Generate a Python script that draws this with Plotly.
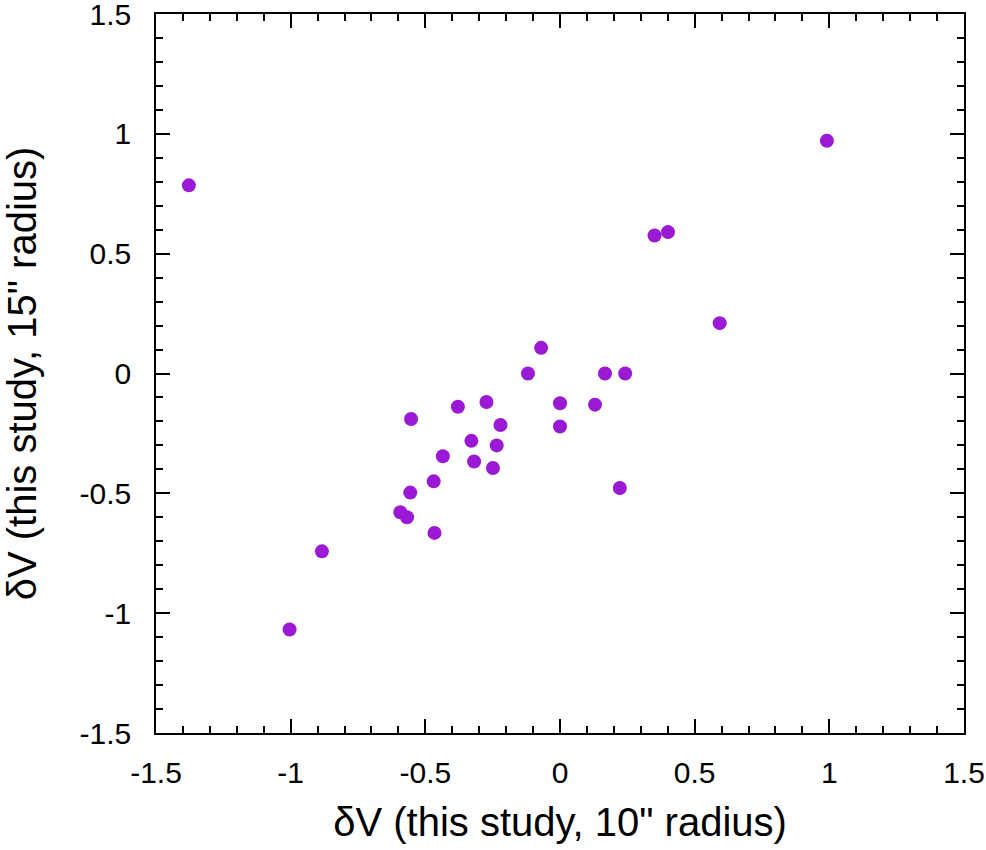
import plotly.graph_objects as go

# delta V values
dv_10 = [-1.378, -1.004, -0.884, -0.593, -0.568, -0.556, -0.553, -0.469, -0.466,
         -0.435, -0.379, -0.329, -0.319, -0.273, -0.249, -0.235, -0.221, -0.119,
         -0.070, 0.000, 0.000, 0.130, 0.167, 0.222, 0.242, 0.351, 0.401, 0.593, 0.991]
dv_15 = [0.785, -1.068, -0.742, -0.579, -0.600, -0.497, -0.190, -0.450, -0.665,
         -0.345, -0.139, -0.281, -0.367, -0.119, -0.394, -0.300, -0.215, 0.000,
         0.107, -0.124, -0.221, -0.130, 0.000, -0.478, 0.000, 0.576, 0.590, 0.210, 0.971]

tick_vals = [-1.5, -1, -0.5, 0, 0.5, 1, 1.5]
tick_text = ['-1.5', '-1', '-0.5', '0', '0.5', '1', '1.5']

fig = go.Figure()
fig.add_trace(go.Scatter(
    x=dv_10, y=dv_15, mode='markers',
    marker=dict(size=14, color='#9a19d4', line=dict(width=0)),
    showlegend=False,
))

axis_common = dict(
    range=[-1.5, 1.5],
    tickvals=tick_vals,
    ticktext=tick_text,
    ticks='inside',
    ticklen=14,
    tickwidth=1.5,
    tickcolor='black',
    showline=True,
    linecolor='black',
    linewidth=1.5,
    mirror='allticks',
    showgrid=False,
    zeroline=False,
    automargin=False,
    ticklabeloverflow='allow',
    tickfont=dict(size=30, color='black'),
    minor=dict(dtick=0.1, ticks='inside', ticklen=7, tickwidth=1.5, tickcolor='black', showgrid=False),
)

fig.update_layout(
    width=986, height=850,
    font=dict(family='Liberation Sans, Arial, sans-serif', color='black'),
    plot_bgcolor='white', paper_bgcolor='white',
    margin=dict(l=156, r=22, t=14, b=117),
    xaxis=dict(axis_common, ticklabelstandoff=12,
               title=dict(text='δV (this study, 10" radius)', font=dict(size=40), standoff=20)),
    yaxis=dict(axis_common, ticklabelstandoff=17,
               title=dict(text='δV (this study, 15" radius)', font=dict(size=40), standoff=36)),
)

# drop the default body margin so the top/right "1.5" labels are not clipped
fig.write_html("out.html", config={'displayModeBar': False},
               post_script="document.body.style.margin='0';")
